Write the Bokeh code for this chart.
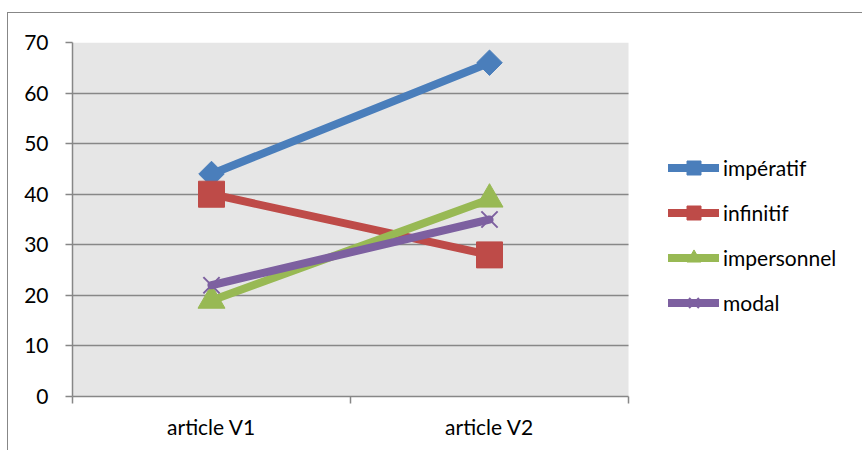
import math
from bokeh.plotting import figure
from bokeh.models import (Range1d, FixedTicker, Legend, LegendItem, InlineStyleSheet,
                          BoxAnnotation)
from bokeh.embed import file_html
from bokeh.resources import INLINE

categories = ["article V1", "article V2"]
series_names = ["impératif", "infinitif", "impersonnel", "modal"]
imperatif = [44, 66]
infinitif = [40, 28]
impersonnel = [19, 39]
modal = [22, 35]
y_ticks = [0, 10, 20, 30, 40, 50, 60, 70]

colors = ["#4a7ebb", "#be4b48", "#98b954", "#7d60a0"]
FONT = "Lato"
GRAY = "#878787"

W, H = 854, 442
LEFT, PLOT_RIGHT, TOP, BOTTOM = 72, 628, 42, 396

n = len(categories)
x = [i + 0.5 for i in range(n)]
boundaries = list(range(n + 1))
x_end = n * (W - LEFT) / (PLOT_RIGHT - LEFT)

p = figure(width=W, height=H, output_backend="svg", toolbar_location=None,
           x_range=Range1d(0, x_end), y_range=Range1d(0, 70),
           min_border_left=LEFT, min_border_right=0, min_border_top=TOP,
           min_border_bottom=H - BOTTOM)
p.background_fill_color = "white"
p.border_fill_color = "white"
p.outline_line_color = None

plot_area = BoxAnnotation(left=0, right=n, fill_color="#e6e6e6", fill_alpha=1,
                          line_color=None, level="image")
p.add_layout(plot_area)

# x axis
p.xaxis.ticker = FixedTicker(ticks=x, minor_ticks=boundaries)
p.xaxis.bounds = (0, n)
p.xaxis.major_label_overrides = {x[i]: categories[i] for i in range(n)}
p.xaxis.major_tick_line_color = None
p.xaxis.minor_tick_out = 7
p.xaxis.minor_tick_in = 0
p.xaxis.minor_tick_line_color = GRAY
p.xaxis.minor_tick_line_width = 1.5
p.xaxis.axis_line_color = GRAY
p.xaxis.axis_line_width = 1.5
p.xaxis.major_label_text_font = FONT
p.xaxis.major_label_text_font_size = "21px"
p.xaxis.major_label_text_color = "black"
p.xaxis.major_label_standoff = 10
p.xgrid.visible = False

# y axis
p.yaxis.ticker = FixedTicker(ticks=y_ticks)
p.yaxis.minor_tick_line_color = None
p.yaxis.major_tick_out = 7
p.yaxis.major_tick_in = 0
p.yaxis.major_tick_line_color = GRAY
p.yaxis.major_tick_line_width = 1.5
p.yaxis.axis_line_color = GRAY
p.yaxis.axis_line_width = 1.5
p.yaxis.major_label_text_font = FONT
p.yaxis.major_label_text_font_size = "21px"
p.yaxis.major_label_text_color = "black"
p.yaxis.major_label_standoff = 17
p.ygrid.ticker = FixedTicker(ticks=y_ticks)
p.ygrid.grid_line_color = GRAY
p.ygrid.grid_line_width = 1.5
p.ygrid.cross_bounds = (0, n)

series = [imperatif, infinitif, impersonnel, modal]
items = []
for name, vals, col, k in zip(series_names, series, colors, range(4)):
    lr = p.line(x, vals, line_color=col, line_width=8, line_cap="round", line_join="round")
    if k == 0:
        sr = p.scatter(x, vals, marker="square", size=18, angle=math.pi / 4,
                       fill_color=col, line_color=col)
    elif k == 1:
        sr = p.scatter(x, vals, marker="square", size=26, fill_color=col, line_color=col)
    elif k == 2:
        sr = p.scatter(x, vals, marker="triangle", size=27, fill_color=col, line_color=col)
    else:
        sr = p.scatter(x, vals, marker="x", size=23, line_color=col, line_width=2)
    items.append(LegendItem(label=name, renderers=[lr, sr]))

legend = Legend(items=items, location=(668 - LEFT, BOTTOM - 320), orientation="vertical",
                glyph_width=51, glyph_height=35, label_height=35, spacing=10,
                padding=0, margin=0, border_line_color=None,
                background_fill_alpha=0, label_text_font=FONT,
                label_text_font_size="21px", label_standoff=4,
                label_text_color="black")
p.add_layout(legend)

p.stylesheets = [InlineStyleSheet(css="""
:host { position: relative; }
:host::after {
  content: ""; position: absolute; left: 7px; top: 12px;
  width: 1000px; height: 1000px; box-sizing: border-box;
  border-top: 1.5px solid #878787; border-left: 1.5px solid #878787;
  pointer-events: none;
}
""")]

open("out.html", "w").write(file_html(p, INLINE))
